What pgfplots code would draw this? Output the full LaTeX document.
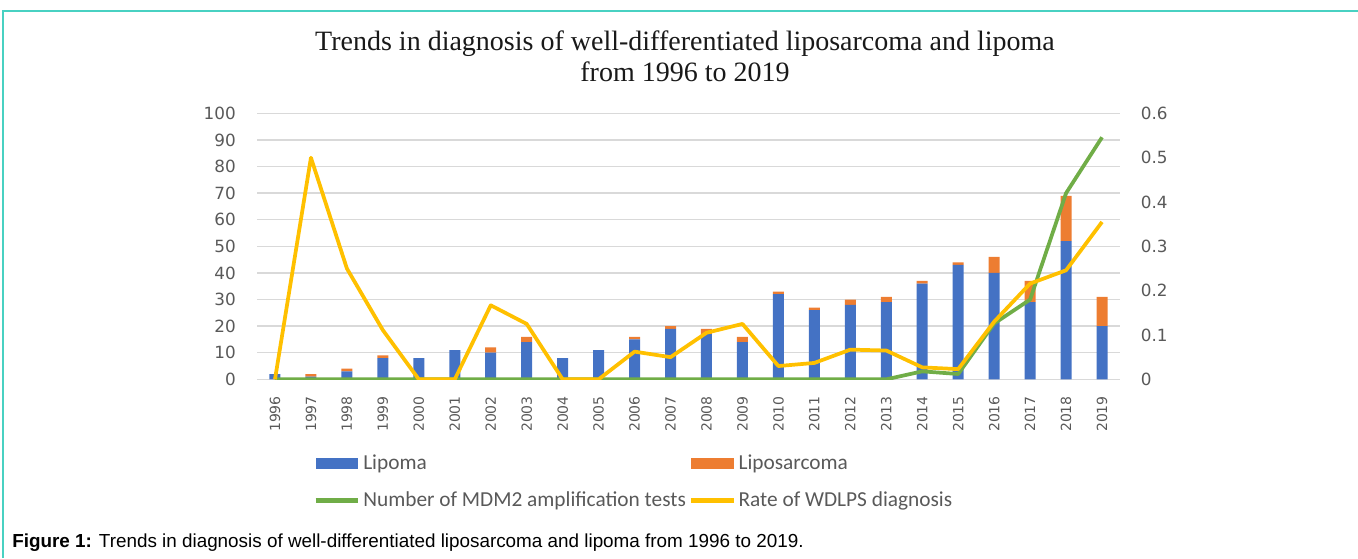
\documentclass[border=0pt]{standalone}
\usepackage{fontspec}
\usepackage{pgfplots}
\usepackage{pgfplotstable}
\pgfplotsset{compat=1.18}
\setmainfont{Carlito}
\newfontfamily\tickfont{DejaVu Sans}
\newfontfamily\titlefont{Liberation Serif}
\newfontfamily\capfont{Liberation Sans}
\definecolor{lipblue}{RGB}{68,114,196}
\definecolor{liporange}{RGB}{237,125,49}
\definecolor{mdmgreen}{RGB}{112,173,71}
\definecolor{rateyellow}{RGB}{255,192,0}
\definecolor{gridgray}{RGB}{217,217,217}
\definecolor{tickgray}{RGB}{89,89,89}
\definecolor{frameteal}{RGB}{72,209,194}

\pgfplotstableread{
x lipoma lipo tests rate
0 2 0 0 0
1 1 1 0 0.5
2 3 1 0 0.25
3 8 1 0 0.111
4 8 0 0 0
5 11 0 0 0
6 10 2 0 0.167
7 14 2 0 0.125
8 8 0 0 0
9 11 0 0 0
10 15 1 0 0.0625
11 19 1 0 0.05
12 17 2 0 0.105
13 14 2 0 0.125
14 32 1 0 0.030
15 26 1 0 0.037
16 28 2 0 0.067
17 29 2 0 0.065
18 36 1 3 0.027
19 43 1 2 0.023
20 40 6 21 0.13
21 29 8 30 0.216
22 52 17 70 0.246
23 20 11 91 0.355
}\data

\begin{document}
\begin{tikzpicture}
\path[use as bounding box] (0,0) rectangle (1018.5pt,418.5pt);
\draw[frameteal, line width=1.5pt] (2.6pt,0pt) -- (2.6pt,410.6pt) -- (1018.5pt,410.6pt);

\node[anchor=base, font={\titlefont\fontsize{21}{25}\selectfont}, text=black!90] at (513.75pt,380.25pt) {Trends in diagnosis of well-differentiated liposarcoma and lipoma};
\node[anchor=base, font={\titlefont\fontsize{21}{25}\selectfont}, text=black!90] at (513.75pt,357pt) {from 1996 to 2019};

\node[anchor=base west, font={\capfont\fontsize{14.15}{17}\selectfont}, inner sep=0pt] at (9pt,7.7pt) {\textbf{Figure 1:} Trends in diagnosis of well-differentiated liposarcoma and lipoma from 1996 to 2019.};

\begin{axis}[
  at={(192.75pt,134pt)}, anchor=south west,
  scale only axis, width=647.25pt, height=199.5pt,
  xmin=-0.5, xmax=23.5, ymin=0, ymax=100,
  ybar stacked, bar width=8.25pt,
  xtick={0,...,23},
  xticklabels={1996,1997,1998,1999,2000,2001,2002,2003,2004,2005,2006,2007,2008,2009,2010,2011,2012,2013,2014,2015,2016,2017,2018,2019},
  ytick={0,10,20,30,40,50,60,70,80,90,100},
  ymajorgrids, grid style={draw=gridgray, line width=1pt},
  axis line style={draw=none}, tick style={draw=none},
  /pgf/number format/assume math mode=true,
  yticklabel style={font={\tickfont\fontsize{12.6}{15}\selectfont}, text=tickgray, anchor=east, inner sep=0pt, xshift=-15.75pt},
  xticklabel style={font={\tickfont\fontsize{10.5}{12}\selectfont}, text=tickgray, rotate=90, anchor=east, inner sep=0pt, xshift=-12.5pt},
  legend columns=2,
  legend cell align=left,
  legend style={at={(axis description cs:0.0649,-0.273)}, anchor=north west, draw=none, fill=none, inner sep=0pt,
    font={\fontsize{16}{19}\selectfont}, text=tickgray,
    /tikz/row sep=11.25pt,
    /tikz/every even column/.append style={column sep=0pt}},
]
\addplot[fill=lipblue, draw=none, legend image code/.code={\fill[lipblue] (0pt,-4pt) rectangle (32pt,4pt);}] table[x=x, y=lipoma] {\data};
\addlegendentry{Lipoma}
\addplot[fill=liporange, draw=none, legend image code/.code={\fill[liporange] (0pt,-4pt) rectangle (32pt,4pt);}] table[x=x, y=lipo] {\data};
\addlegendentry{Liposarcoma}
\addlegendimage{legend image code/.code={\draw[mdmgreen, line width=3.5pt] (0pt,0pt) -- (32pt,0pt);}}
\addlegendentry{Number of MDM2 amplification tests}
\addlegendimage{legend image code/.code={\draw[rateyellow, line width=3.5pt] (0pt,0pt) -- (32pt,0pt);}}
\addlegendentry{Rate of WDLPS diagnosis}
\end{axis}

\begin{axis}[
  at={(192.75pt,134pt)}, anchor=south west,
  scale only axis, width=647.25pt, height=199.5pt,
  xmin=-0.5, xmax=23.5, ymin=0, ymax=100,
  hide axis,
]
\addplot[mdmgreen, line width=2.8pt, line join=round, no marks] table[x=x, y=tests] {\data};
\end{axis}

\begin{axis}[
  at={(192.75pt,134pt)}, anchor=south west,
  scale only axis, width=647.25pt, height=199.5pt,
  xmin=-0.5, xmax=23.5, ymin=0, ymax=0.6,
  hide x axis, axis y line*=right,
  axis line style={draw=none}, tick style={draw=none},
  ytick={0,0.1,0.2,0.3,0.4,0.5,0.6},
  yticklabels={0,0.1,0.2,0.3,0.4,0.5,0.6},
  yticklabel style={font={\tickfont\fontsize{12.6}{15}\selectfont}, text=tickgray, anchor=west, inner sep=0pt, xshift=15.5pt},
]
\addplot[rateyellow, line width=2.8pt, line join=round, no marks] table[x=x, y=rate] {\data};
\end{axis}
\end{tikzpicture}
\end{document}
